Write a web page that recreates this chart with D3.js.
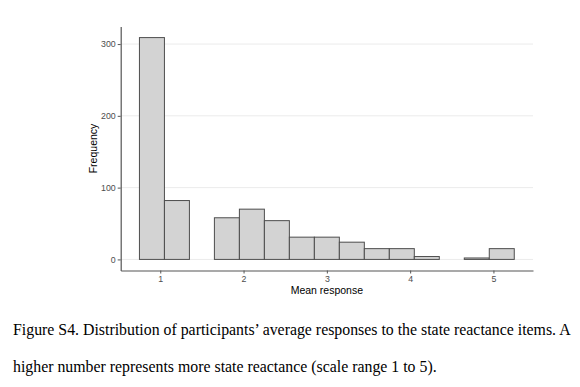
<!DOCTYPE html>
<html>
<head>
    <title>Figure S4 histogram</title>
</head>
<body>
<style type="text/css">
    body {
        margin: 0;
        background: #fff;
    }

    #renderer {
        width: 580px;
        height: 387px;
        background: #FFF;
        display: block;
    }
</style>
<script type="text/javascript" src="https://cdnjs.cloudflare.com/ajax/libs/d3/7.8.5/d3.min.js"></script>
<svg id='renderer'></svg>

<script type="text/javascript">
    // histogram bins (mean response), width 0.3
    var binLow = [0.75, 1.05, 1.35, 1.65, 1.95, 2.25, 2.55, 2.85, 3.15, 3.45, 3.75, 4.05, 4.35, 4.65, 4.95];
    var binHigh = [1.05, 1.35, 1.65, 1.95, 2.25, 2.55, 2.85, 3.15, 3.45, 3.75, 4.05, 4.35, 4.65, 4.95, 5.25];
    var counts = [309, 82, 0, 58, 70, 54, 31, 31, 24, 15, 15, 4, 0, 2, 15];

    var xTicks = [1, 2, 3, 4, 5];
    var yTicks = [0, 100, 200, 300];

    var xTitle = 'Mean response';
    var yTitle = 'Frequency';
    var captionLines = [
        'Figure S4. Distribution of participants\u2019 average responses to the state reactance items. A',
        'higher number represents more state reactance (scale range 1 to 5).'
    ];

    var root = d3.select('#renderer');

    var panelLeft = 120.7;
    var panelRight = 533;
    var panelTop = 26.5;
    var panelBottom = 270.5;

    var axisColor = '#555';
    var fontSans = 'Arial, "Liberation Sans", sans-serif';

    // ggplot style 5% expansion
    var xMin = d3.min(binLow), xMax = d3.max(binHigh);
    var xPad = (xMax - xMin) * 0.05;
    var yMax = d3.max(counts);
    var yPad = yMax * 0.05;

    var x = d3.scaleLinear()
        .domain([xMin - xPad, xMax + xPad])
        .range([panelLeft, panelRight]);

    var y = d3.scaleLinear()
        .domain([-yPad, yMax + yPad])
        .range([panelBottom, panelTop]);

    // horizontal grid
    root.append('g')
        .selectAll('line')
        .data(yTicks)
        .enter()
        .append('line')
        .attr('x1', panelLeft)
        .attr('x2', panelRight)
        .attr('y1', function (d) { return y(d); })
        .attr('y2', function (d) { return y(d); })
        .attr('stroke', '#ebebeb')
        .attr('stroke-width', 1);

    // bars
    var bins = counts.map(function (c, i) {
        return {lo: binLow[i], hi: binHigh[i], n: c};
    }).filter(function (d) { return d.n > 0; });

    root.append('g')
        .selectAll('rect')
        .data(bins)
        .enter()
        .append('rect')
        .attr('x', function (d) { return x(d.lo); })
        .attr('width', function (d) { return x(d.hi) - x(d.lo); })
        .attr('y', function (d) { return y(d.n); })
        .attr('height', function (d) { return y(0) - y(d.n); })
        .attr('fill', '#d3d3d3')
        .attr('stroke', '#4d4d4d')
        .attr('stroke-width', 1);

    // axes
    var xAxis = root.append('g')
        .attr('transform', 'translate(0,' + panelBottom + ')')
        .call(d3.axisBottom(x).tickValues(xTicks).tickFormat(d3.format('d'))
            .tickSize(3).tickPadding(2).tickSizeOuter(0));

    var yAxis = root.append('g')
        .attr('transform', 'translate(' + panelLeft + ',0)')
        .call(d3.axisLeft(y).tickValues(yTicks).tickFormat(d3.format('d'))
            .tickSize(3).tickPadding(2).tickSizeOuter(0));

    [xAxis, yAxis].forEach(function (g) {
        g.select('.domain').attr('stroke', axisColor).attr('stroke-width', 1.2);
        g.selectAll('.tick line').attr('stroke', axisColor);
        g.selectAll('.tick text')
            .attr('fill', '#4d4d4d')
            .attr('font-family', fontSans)
            .attr('font-size', 8.8);
    });

    // axis titles
    root.append('text')
        .text(xTitle)
        .attr('x', (panelLeft + panelRight) / 2)
        .attr('y', 294)
        .attr('text-anchor', 'middle')
        .attr('font-family', fontSans)
        .attr('font-size', 10.5)
        .attr('fill', '#000');

    root.append('text')
        .text(yTitle)
        .attr('transform', 'translate(97,' + (panelTop + panelBottom) / 2 + ') rotate(-90)')
        .attr('text-anchor', 'middle')
        .attr('font-family', fontSans)
        .attr('font-size', 10.5)
        .attr('fill', '#000');

    // caption
    root.selectAll('.caption')
        .data(captionLines)
        .enter()
        .append('text')
        .attr('class', 'caption')
        .text(function (d) { return d; })
        .attr('x', 13)
        .attr('y', function (d, i) { return 335 + i * 37; })
        .attr('font-family', '"Times New Roman", "Liberation Serif", serif')
        .attr('font-size', 15.85)
        .attr('fill', '#000');
</script>
</body>
</html>
